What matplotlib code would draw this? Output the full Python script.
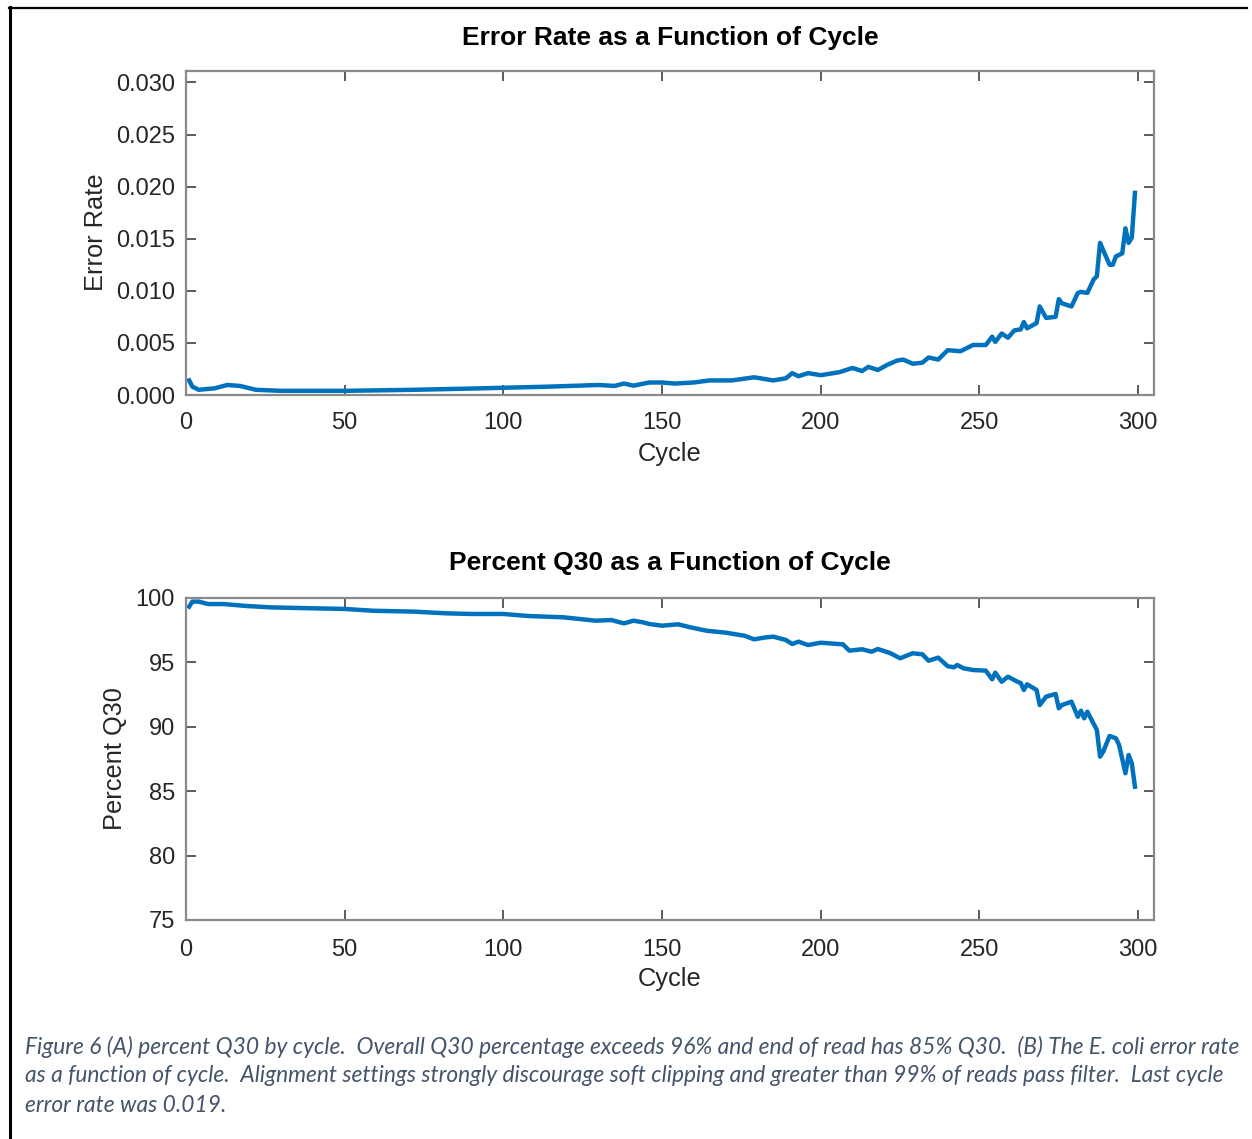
import matplotlib
matplotlib.use("Agg")
import matplotlib.pyplot as plt
from matplotlib.lines import Line2D

# ---------------- data ----------------
err_cycles = [1, 2, 4, 9, 13, 17, 22, 30, 50, 72, 93, 114, 130, 135, 138, 141, 146, 150,
              154, 160, 165, 172, 179, 185, 189, 191, 193, 196, 200, 206, 210, 213, 215,
              218, 221, 224, 226, 229, 232, 234, 237, 240, 244, 248, 252, 254, 255, 257,
              259, 261, 263, 264, 265, 268, 269, 271, 274, 275, 276, 279, 281, 282, 284,
              286, 287, 288, 289, 291, 292, 293, 295, 296, 297, 298, 299]
err_rate = [0.0014, 0.0008, 0.0005, 0.00064, 0.00096, 0.00087, 0.0005, 0.0004, 0.0004,
            0.0005, 0.00064, 0.0008, 0.00096, 0.00087, 0.0011, 0.0009, 0.0012, 0.0012,
            0.0011, 0.0012, 0.0014, 0.0014, 0.0017, 0.0014, 0.0016, 0.0021, 0.0018,
            0.0021, 0.0019, 0.0022, 0.0026, 0.0023, 0.0027, 0.0024, 0.0029, 0.0033,
            0.0034, 0.0030, 0.0031, 0.0036, 0.0034, 0.0043, 0.0042, 0.0048, 0.0048,
            0.0056, 0.0051, 0.0059, 0.0055, 0.0062, 0.0063, 0.0070, 0.0064, 0.0069,
            0.0085, 0.0074, 0.0075, 0.0092, 0.0088, 0.0085, 0.0098, 0.0099, 0.0098,
            0.0111, 0.0114, 0.0146, 0.0139, 0.0125, 0.0125, 0.0133, 0.0136, 0.0160,
            0.0146, 0.0151, 0.0194]

q30_cycles = [1, 2, 4, 7, 12, 19, 27, 40, 50, 59, 72, 82, 90, 100, 108, 119, 129, 134,
              138, 141, 144, 146, 150, 155, 159, 164, 170, 176, 179, 182, 185, 189, 191,
              193, 196, 200, 207, 209, 213, 216, 218, 222, 225, 229, 232, 234, 237, 240,
              242, 243, 245, 248, 252, 254, 255, 257, 259, 262, 263, 264, 265, 268, 269,
              271, 274, 275, 276, 279, 281, 282, 283, 284, 287, 288, 289, 291, 293, 294,
              296, 297, 298, 299]
q30_pct = [99.33, 99.72, 99.72, 99.53, 99.53, 99.38, 99.27, 99.20, 99.15, 99.01, 98.94,
           98.81, 98.76, 98.76, 98.60, 98.50, 98.24, 98.29, 98.03, 98.24, 98.11, 97.98,
           97.85, 97.96, 97.72, 97.46, 97.31, 97.07, 96.79, 96.92, 97.00, 96.74, 96.43,
           96.61, 96.35, 96.53, 96.40, 95.91, 96.02, 95.83, 96.04, 95.71, 95.32, 95.71,
           95.63, 95.13, 95.37, 94.70, 94.62, 94.80, 94.54, 94.41, 94.36, 93.69, 94.20,
           93.50, 93.89, 93.50, 93.40, 92.86, 93.30, 92.86, 91.69, 92.34, 92.55, 91.44,
           91.69, 91.95, 90.78, 91.25, 90.66, 91.17, 89.75, 87.68, 88.07, 89.29, 89.11,
           88.59, 86.39, 87.81, 87.17, 85.35]

x_ticks = [0, 50, 100, 150, 200, 250, 300]
err_ticks = [0.000, 0.005, 0.010, 0.015, 0.020, 0.025, 0.030]
err_ticklabels = ["0.000", "0.005", "0.010", "0.015", "0.020", "0.025", "0.030"]
q30_ticks = [75, 80, 85, 90, 95, 100]

caption_lines = [
    "Figure 6 (A) percent Q30 by cycle.  Overall Q30 percentage exceeds 96% and end of read has 85% Q30.  (B) The E. coli error rate",
    "as a function of cycle.  Alignment settings strongly discourage soft clipping and greater than 99% of reads pass filter.  Last cycle",
    "error rate was 0.019.",
]

# ---------------- style ----------------
W, H = 1252, 1139
plt.rcParams['font.family'] = ['Liberation Sans', 'DejaVu Sans']
LINE_COLOR = '#0072BD'
SPINE = '#8a8a8a'
TXT = '#262626'

fig = plt.figure(figsize=(W / 100, H / 100), dpi=100)

def px_ax(x0, y0, x1, y1):
    return [x0 / W, 1 - y1 / H, (x1 - x0) / W, (y1 - y0) / H]

ax1 = fig.add_axes(px_ax(186, 71, 1154, 395))
ax2 = fig.add_axes(px_ax(186, 598, 1154, 920))

def style(ax, xpad):
    for s in ax.spines.values():
        s.set_color(SPINE)
        s.set_linewidth(1.6)
    ax.tick_params(direction='in', length=7, width=1.2, color='#404040',
                   top=True, right=True, labelsize=17, labelcolor=TXT)
    ax.tick_params(axis='x', pad=xpad)
    ax.tick_params(axis='y', pad=8)

ax1.plot(err_cycles, err_rate, color=LINE_COLOR, lw=3.2, solid_joinstyle='round')
ax1.set_xlim(0, 305)
ax1.set_ylim(0, 0.0311)
ax1.set_xticks(x_ticks)
ax1.set_yticks(err_ticks)
ax1.set_yticklabels(err_ticklabels)
style(ax1, 12.5)
ax1.set_title("Error Rate as a Function of Cycle", fontsize=19, fontweight='bold',
              color='black', pad=19)
ax1.set_xlabel("Cycle", fontsize=18.3, color=TXT)
ax1.set_ylabel("Error Rate", fontsize=18.3, color=TXT)
ax1.xaxis.set_label_coords(0.5, -0.145)
ax1.yaxis.set_label_coords(-0.0805, 0.503)

ax2.plot(q30_cycles, q30_pct, color=LINE_COLOR, lw=3.2, solid_joinstyle='round')
ax2.set_xlim(0, 305)
ax2.set_ylim(75, 100)
ax2.set_xticks(x_ticks)
ax2.set_yticks(q30_ticks)
style(ax2, 13.5)
ax2.set_title("Percent Q30 as a Function of Cycle", fontsize=19, fontweight='bold',
              color='black', pad=20)
ax2.set_xlabel("Cycle", fontsize=18.3, color=TXT)
ax2.set_ylabel("Percent Q30", fontsize=18.3, color=TXT)
ax2.xaxis.set_label_coords(0.5, -0.146)
ax2.yaxis.set_label_coords(-0.061, 0.5)

# document border lines
fig.add_artist(Line2D([10 / W, 10 / W], [0, 1 - 7 / H], color='black', lw=2.2,
                      transform=fig.transFigure))
fig.add_artist(Line2D([9 / W, 1247 / W], [1 - 7.5 / H, 1 - 7.5 / H], color='black', lw=1.6,
                      transform=fig.transFigure))

# caption
cap_texts = []
ys = [1047, 1076, 1106]
for line, yc in zip(caption_lines, ys):
    t = fig.text(25 / W, 1 - yc / H, line, fontsize=15, style='italic',
                 family=['Lato', 'DejaVu Sans'], color='#44546A', ha='left', va='center')
    cap_texts.append(t)

fig.canvas.draw()
r = fig.canvas.get_renderer()
w0 = cap_texts[0].get_window_extent(r).width
scale = 1216 / w0
for t in cap_texts:
    t.set_fontsize(15 * scale)

fig.savefig("out.png", dpi=100)
